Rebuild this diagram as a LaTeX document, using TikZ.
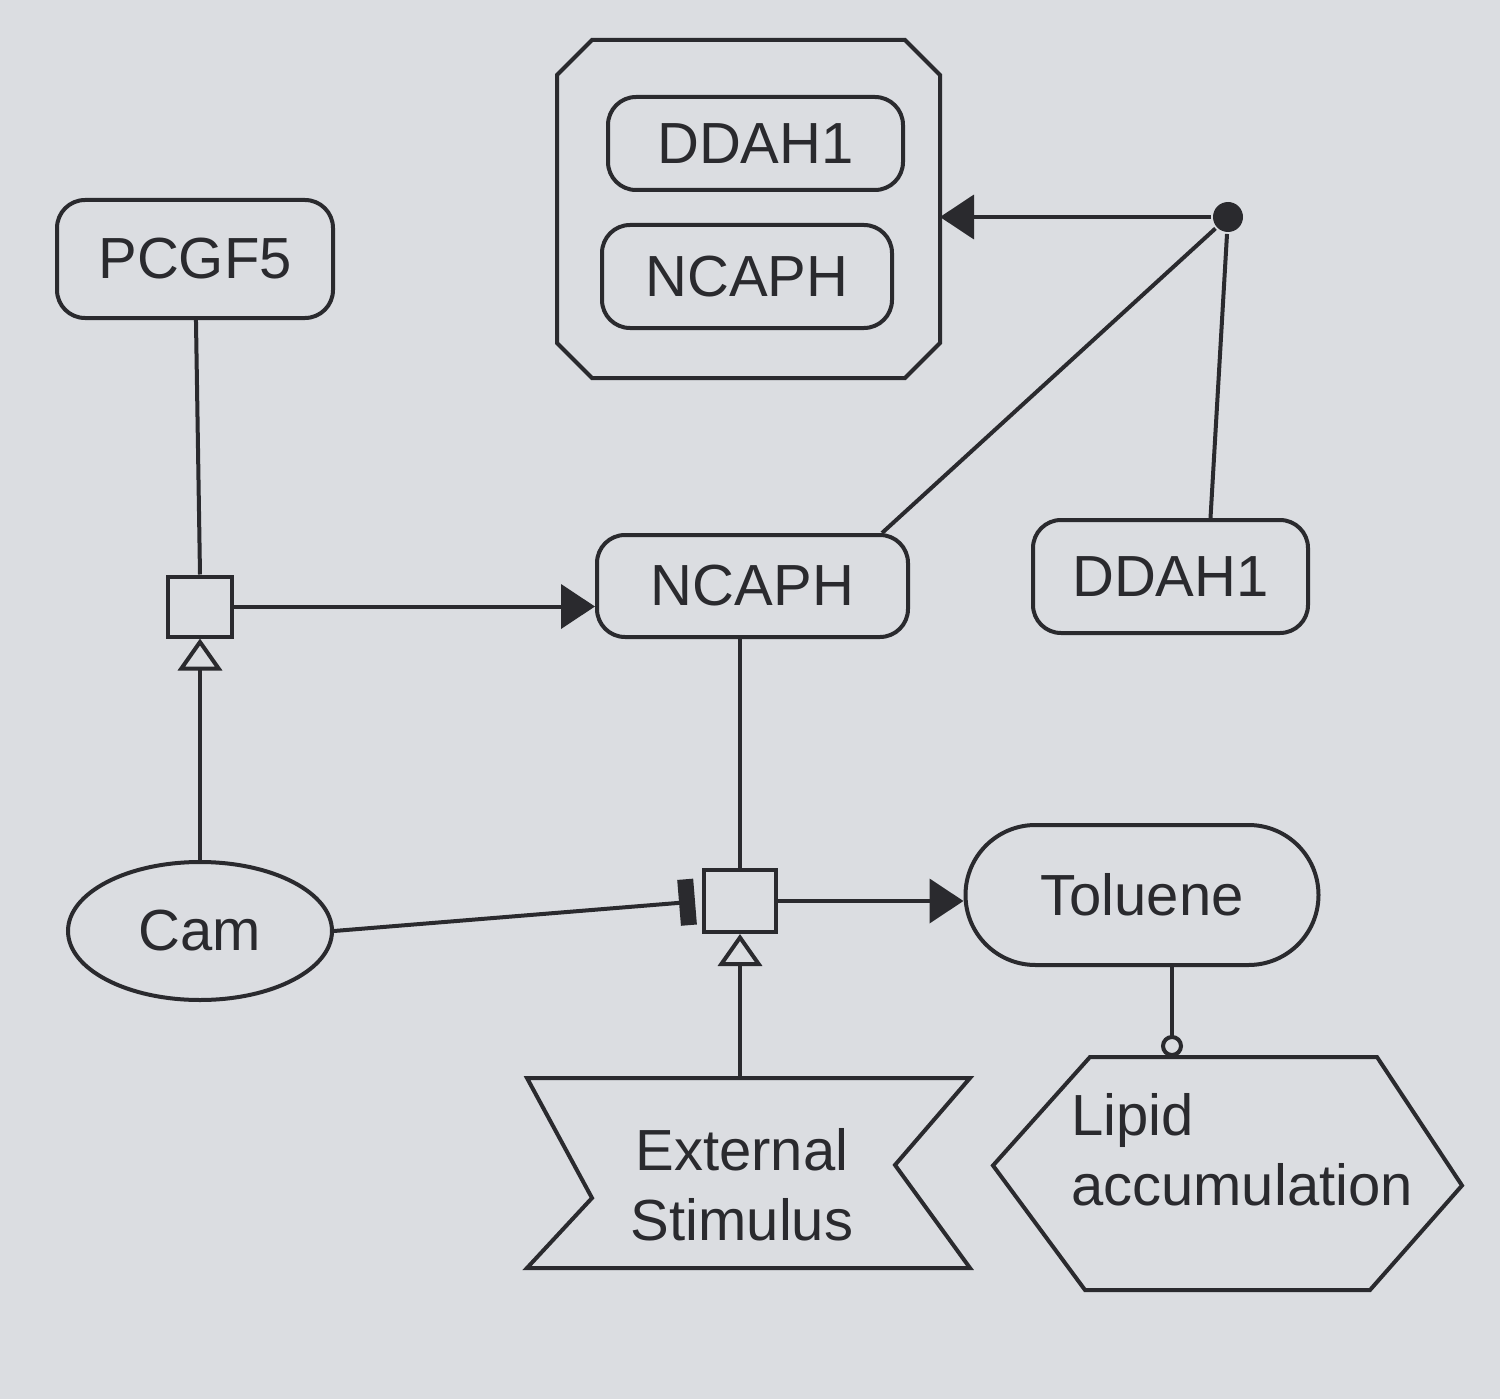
\documentclass[tikz,border=0pt]{standalone}
\usepackage{fontspec}
\setmainfont{Liberation Sans}
\usetikzlibrary{arrows.meta,calc,shapes.misc,shapes.geometric}
\definecolor{paper}{RGB}{219,221,225}
\definecolor{ink}{RGB}{42,42,46}
\begin{document}
\begin{tikzpicture}[x=1pt,y=-1pt,line width=4pt,draw=ink,
  every node/.style={font=\fontsize{58}{70}\selectfont,text=ink,inner sep=0pt},
  box/.style={draw,rounded corners=28pt},
  helper/.style={draw=none,outer sep=0pt},
  pnode/.style={draw,rectangle,minimum width=64pt,minimum height=60pt,rounded corners=0pt},
  prod/.style={-{Triangle[length=34pt,width=44pt]}},
  stim/.style={-{Triangle[open,length=32pt,width=44pt]}},
  inhib/.style={-{Rectangle[length=16pt,width=46pt]},shorten >=7pt},
  cat/.style={-{Circle[open,length=22pt,width=22pt]}}]
\useasboundingbox (0,0) rectangle (1500,1399);
\fill[paper] (0,0) rectangle (1500,1399);

% complex
\node[helper,minimum width=383pt,minimum height=338pt] (complex) at (748.5,209) {};
\draw ($(complex.north west)+(35,0)$) -- ($(complex.north east)+(-35,0)$)
  -- ($(complex.north east)+(0,35)$) -- ($(complex.south east)+(0,-35)$)
  -- ($(complex.south east)+(-35,0)$) -- ($(complex.south west)+(35,0)$)
  -- ($(complex.south west)+(0,-35)$) -- ($(complex.north west)+(0,35)$) -- cycle;
\node[box,minimum width=295pt,minimum height=93pt] (cdd) at (755.5,143.5) {DDAH1};
\node[box,minimum width=290pt,minimum height=103pt] (cnc) at (747,276.5) {NCAPH};

% entities
\node[circle,fill=ink,minimum size=30pt] (dot) at (1228,217) {};
\node[box,minimum width=311pt,minimum height=102pt] (ncaph) at (752.5,586) {NCAPH};
\node[box,minimum width=275pt,minimum height=113pt] (ddah1) at (1170.5,576.5) {DDAH1};
\node[box,minimum width=276pt,minimum height=118pt] (pcgf5) at (195,259) {PCGF5};
\node[draw,ellipse,minimum width=264pt,minimum height=138pt] (cam) at (200,931) {Cam};
\node[draw,rounded rectangle,minimum width=353pt,minimum height=140pt] (toluene) at (1142,895) {Toluene};
\node[pnode] (p1) at (200,606.5) {};
\node[pnode,minimum width=72pt,minimum height=62pt] (p2) at (740,901) {};

% perturbation
\node[helper,minimum width=443pt,minimum height=190pt] (ext) at (748.5,1173) {};
\draw (ext.north west) -- (ext.north east) -- ($(ext.east)+(-75,-8)$)
  -- (ext.south east) -- (ext.south west) -- ($(ext.west)+(65,25)$) -- cycle;
\node[align=center] (exttxt) at (742,1185) {External\\Stimulus};

% phenotype
\node[helper,minimum width=469pt,minimum height=233pt] (lipid) at (1227.5,1173.5) {};
\draw ($(lipid.north west)+(97,0)$) -- ($(lipid.north east)+(-85,0)$)
  -- ($(lipid.east)+(0,12)$) -- ($(lipid.south east)+(-92,0)$)
  -- ($(lipid.south west)+(92,0)$) -- ($(lipid.west)+(0,-8)$) -- cycle;
\node[align=left] (lipidtxt) at (1242,1150) {Lipid\\accumulation};

% connectors
\draw[prod] (dot) -- (dot -| complex.east);
\draw (dot) -- ([xshift=-28pt]ncaph.north east);
\draw (dot) -- ([xshift=40pt]ddah1.north);
\draw (pcgf5) -- (p1.north);
\draw[stim] (cam.north -| p1) -- (p1.south);
\draw[prod] (p1.east) -- (p1.east -| ncaph.west);
\draw (p2.north |- ncaph.south) -- (p2.north);
\draw[inhib] (cam.east) -- (p2.west);
\draw[stim] (ext.north -| p2) -- (p2.south);
\draw[prod] (p2.east) -- (p2.east -| toluene.west);
\draw[cat] ([xshift=30pt]toluene.south) -- ([xshift=30pt]toluene.south |- lipid.north);
\end{tikzpicture}
\end{document}
